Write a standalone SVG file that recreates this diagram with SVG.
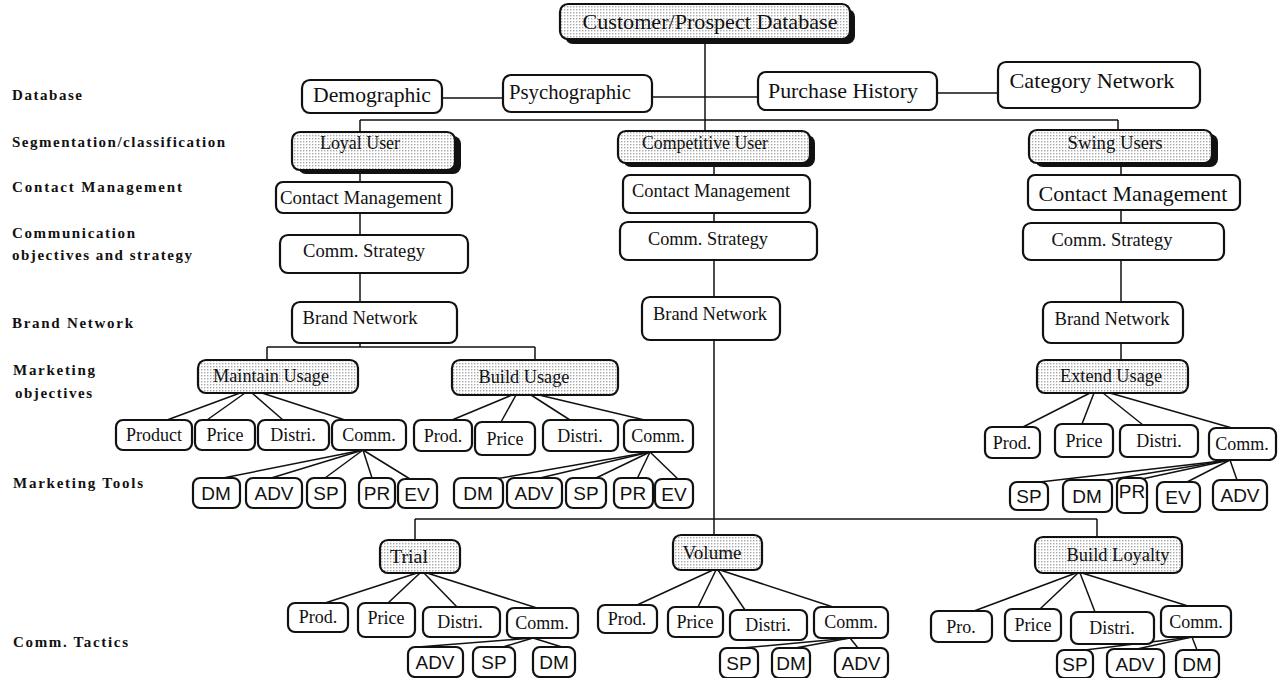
<svg xmlns="http://www.w3.org/2000/svg" width="1280" height="678" viewBox="0 0 1280 678">
<defs>
<pattern id="dots" width="3" height="3" patternUnits="userSpaceOnUse">
<rect width="3" height="3" fill="#fff"/>
<rect width="1.4" height="1.4" fill="#a8a8a8"/>
</pattern>
<style>
.b{fill:#fff;stroke:#111;stroke-width:2.2}
.s{fill:url(#dots);stroke:#111;stroke-width:2.2}
.sh{fill:#111}
text{font-family:"Liberation Serif","Times New Roman",serif;fill:#111}
.m{text-anchor:middle}
.lbl{font-weight:bold;font-size:15px}
.n17{font-size:17px}
.n18{font-size:18px}
.n19{font-size:19px}
.n21{font-size:21px}
.n22{font-size:22px}
.a{font-family:"Liberation Sans",Arial,sans-serif;font-size:19px;text-anchor:middle}
#connectors line{stroke:#111;stroke-width:1.5;fill:none}
</style>
</defs>
<rect width="1280" height="678" fill="#fff"/>

<g id="row-labels">
<text class="lbl" x="12" y="100" textLength="70">Database</text>
<text class="lbl" x="12" y="147" textLength="213">Segmentation/classification</text>
<text class="lbl" x="12" y="192" textLength="170">Contact Management</text>
<text class="lbl" x="12" y="238" textLength="123">Communication</text>
<text class="lbl" x="12" y="260" textLength="180">objectives and strategy</text>
<text class="lbl" x="12" y="328" textLength="121">Brand Network</text>
<text class="lbl" x="13" y="375" textLength="82">Marketing</text>
<text class="lbl" x="15" y="398" textLength="77">objectives</text>
<text class="lbl" x="13" y="488" textLength="130">Marketing Tools</text>
<text class="lbl" x="13" y="647" textLength="115">Comm. Tactics</text>
</g>

<g id="connectors">
<line x1="705" y1="40" x2="705" y2="131"/>
<line x1="442" y1="98" x2="503" y2="98"/>
<line x1="652" y1="97" x2="758" y2="97"/>
<line x1="937" y1="93" x2="998" y2="93"/>
<line x1="360" y1="120" x2="1118" y2="120"/>
<line x1="360" y1="120" x2="360" y2="132"/>
<line x1="1118" y1="120" x2="1118" y2="130"/>
<line x1="360" y1="170" x2="360" y2="182"/>
<line x1="360" y1="213" x2="360" y2="235"/>
<line x1="360" y1="273" x2="360" y2="302"/>
<line x1="360" y1="343" x2="360" y2="347"/>
<line x1="267" y1="347" x2="535" y2="347"/>
<line x1="267" y1="347" x2="267" y2="360"/>
<line x1="535" y1="347" x2="535" y2="360"/>
<line x1="714" y1="163" x2="714" y2="175"/>
<line x1="714" y1="213" x2="714" y2="222"/>
<line x1="714" y1="260" x2="714" y2="297"/>
<line x1="714" y1="340" x2="714" y2="535"/>
<line x1="415" y1="519" x2="1097" y2="519"/>
<line x1="415" y1="519" x2="415" y2="540"/>
<line x1="1097" y1="519" x2="1097" y2="537"/>
<line x1="1121" y1="163" x2="1121" y2="175"/>
<line x1="1121" y1="210" x2="1121" y2="223"/>
<line x1="1121" y1="260" x2="1121" y2="302"/>
<line x1="1121" y1="343" x2="1121" y2="360"/>
<line x1="240" y1="393" x2="167" y2="420"/>
<line x1="245" y1="393" x2="207" y2="420"/>
<line x1="252" y1="393" x2="283" y2="420"/>
<line x1="262" y1="393" x2="345" y2="420"/>
<line x1="363" y1="450" x2="218" y2="479"/>
<line x1="363" y1="450" x2="268" y2="479"/>
<line x1="363" y1="450" x2="325" y2="478"/>
<line x1="363" y1="450" x2="372" y2="478"/>
<line x1="363" y1="450" x2="410" y2="479"/>
<line x1="512" y1="395" x2="452" y2="420"/>
<line x1="516" y1="395" x2="501" y2="422"/>
<line x1="531" y1="395" x2="570" y2="420"/>
<line x1="539" y1="395" x2="653" y2="422"/>
<line x1="650" y1="452" x2="495" y2="479"/>
<line x1="650" y1="452" x2="540" y2="478"/>
<line x1="650" y1="452" x2="594" y2="479"/>
<line x1="650" y1="452" x2="637" y2="479"/>
<line x1="650" y1="452" x2="679" y2="480"/>
<line x1="1090" y1="393" x2="1023" y2="427"/>
<line x1="1094" y1="393" x2="1082" y2="424"/>
<line x1="1103" y1="393" x2="1143" y2="425"/>
<line x1="1110" y1="393" x2="1232" y2="428"/>
<line x1="1230" y1="460" x2="1040" y2="482"/>
<line x1="1230" y1="460" x2="1107" y2="480"/>
<line x1="1230" y1="460" x2="1142" y2="479"/>
<line x1="1230" y1="460" x2="1187" y2="482"/>
<line x1="1230" y1="460" x2="1237" y2="480"/>
<line x1="417" y1="573" x2="325" y2="603"/>
<line x1="420" y1="573" x2="388" y2="603"/>
<line x1="424" y1="573" x2="457" y2="607"/>
<line x1="427" y1="573" x2="537" y2="608"/>
<line x1="533" y1="638" x2="418" y2="647"/>
<line x1="533" y1="638" x2="503" y2="647"/>
<line x1="533" y1="638" x2="562" y2="647"/>
<line x1="713" y1="570" x2="637" y2="605"/>
<line x1="716" y1="570" x2="698" y2="607"/>
<line x1="718" y1="570" x2="745" y2="610"/>
<line x1="720" y1="570" x2="833" y2="607"/>
<line x1="850" y1="638" x2="742" y2="648"/>
<line x1="850" y1="638" x2="795" y2="648"/>
<line x1="850" y1="638" x2="858" y2="648"/>
<line x1="1076" y1="573" x2="974" y2="611"/>
<line x1="1078" y1="573" x2="1040" y2="609"/>
<line x1="1080" y1="573" x2="1095" y2="612"/>
<line x1="1082" y1="573" x2="1188" y2="606"/>
<line x1="1192" y1="637" x2="1085" y2="650"/>
<line x1="1192" y1="637" x2="1137" y2="649"/>
<line x1="1192" y1="637" x2="1197" y2="650"/>
</g>

<g id="customer-db"><rect class="sh" x="565" y="9" width="290" height="35" rx="8"/><rect class="s" x="560" y="4" width="290" height="35" rx="8"/><text class="m n22" x="710" y="29" textLength="255" lengthAdjust="spacingAndGlyphs">Customer/Prospect Database</text></g>

<g id="demographic"><rect class="b" x="302" y="80" width="140" height="33" rx="8"/><text class="m n22" x="372" y="102" textLength="118" lengthAdjust="spacingAndGlyphs">Demographic</text></g>
<g id="psychographic"><rect class="b" x="503" y="75" width="149" height="37" rx="8"/><text class="m n21" x="570" y="99" textLength="122" lengthAdjust="spacingAndGlyphs">Psychographic</text></g>
<g id="purchase-history"><rect class="b" x="758" y="72" width="179" height="38" rx="8"/><text class="m n22" x="843" y="98" textLength="150" lengthAdjust="spacingAndGlyphs">Purchase History</text></g>
<g id="category-network"><rect class="b" x="998" y="62" width="202" height="46" rx="8"/><text class="m n22" x="1092" y="88" textLength="165" lengthAdjust="spacingAndGlyphs">Category Network</text></g>

<g id="loyal-user"><rect class="sh" x="298" y="136" width="163" height="38" rx="8"/><rect class="s" x="292" y="132" width="163" height="38" rx="8"/><text class="m n18" x="360" y="149" textLength="80" lengthAdjust="spacingAndGlyphs">Loyal User</text></g>
<g id="competitive-user"><rect class="sh" x="623" y="135" width="192" height="32" rx="8"/><rect class="s" x="618" y="131" width="192" height="32" rx="8"/><text class="m n18" x="705" y="149" textLength="126" lengthAdjust="spacingAndGlyphs">Competitive User</text></g>
<g id="swing-users"><rect class="sh" x="1035" y="134" width="183" height="33" rx="8"/><rect class="s" x="1029" y="130" width="183" height="33" rx="8"/><text class="m n19" x="1115" y="149" textLength="95" lengthAdjust="spacingAndGlyphs">Swing Users</text></g>

<g id="cm-loyal"><rect class="b" x="276" y="182" width="176" height="31" rx="7"/><text class="m n19" x="361" y="204" textLength="162" lengthAdjust="spacingAndGlyphs">Contact Management</text></g>
<g id="cm-competitive"><rect class="b" x="623" y="175" width="187" height="38" rx="7"/><text class="m n18" x="711" y="197" textLength="158" lengthAdjust="spacingAndGlyphs">Contact Management</text></g>
<g id="cm-swing"><rect class="b" x="1028" y="175" width="212" height="35" rx="7"/><text class="m n22" x="1133" y="201" textLength="189" lengthAdjust="spacingAndGlyphs">Contact Management</text></g>

<g id="cs-loyal"><rect class="b" x="280" y="235" width="188" height="38" rx="8"/><text class="m n19" x="364" y="257" textLength="122" lengthAdjust="spacingAndGlyphs">Comm. Strategy</text></g>
<g id="cs-competitive"><rect class="b" x="620" y="222" width="197" height="38" rx="8"/><text class="m n18" x="708" y="245" textLength="120" lengthAdjust="spacingAndGlyphs">Comm. Strategy</text></g>
<g id="cs-swing"><rect class="b" x="1023" y="223" width="201" height="37" rx="8"/><text class="m n18" x="1112" y="246" textLength="121" lengthAdjust="spacingAndGlyphs">Comm. Strategy</text></g>

<g id="bn-loyal"><rect class="b" x="292" y="302" width="165" height="41" rx="8"/><text class="m n19" x="360" y="324" textLength="115" lengthAdjust="spacingAndGlyphs">Brand Network</text></g>
<g id="bn-competitive"><rect class="b" x="642" y="297" width="138" height="43" rx="8"/><text class="m n19" x="710" y="320" textLength="114" lengthAdjust="spacingAndGlyphs">Brand Network</text></g>
<g id="bn-swing"><rect class="b" x="1043" y="302" width="140" height="41" rx="8"/><text class="m n19" x="1112" y="325" textLength="115" lengthAdjust="spacingAndGlyphs">Brand Network</text></g>

<g id="maintain-usage"><rect class="s" x="198" y="360" width="160" height="33" rx="8"/><text class="m n18" x="271" y="382" textLength="116" lengthAdjust="spacingAndGlyphs">Maintain Usage</text></g>
<g id="build-usage"><rect class="s" x="452" y="360" width="166" height="35" rx="8"/><text class="m n18" x="524" y="383" textLength="91" lengthAdjust="spacingAndGlyphs">Build Usage</text></g>
<g id="extend-usage"><rect class="s" x="1037" y="360" width="151" height="33" rx="8"/><text class="m n18" x="1111" y="382" textLength="102" lengthAdjust="spacingAndGlyphs">Extend Usage</text></g>

<g id="mu-product"><rect class="b" x="116" y="420" width="76" height="30" rx="7"/><text class="m n18" x="154" y="441">Product</text></g>
<g id="mu-price"><rect class="b" x="195" y="420" width="60" height="30" rx="7"/><text class="m n18" x="225" y="441">Price</text></g>
<g id="mu-distri"><rect class="b" x="258" y="420" width="71" height="30" rx="7"/><text class="m n18" x="293" y="441">Distri.</text></g>
<g id="mu-comm"><rect class="b" x="332" y="420" width="74" height="30" rx="7"/><text class="m n18" x="369" y="441">Comm.</text></g>

<g id="bu-prod"><rect class="b" x="414" y="420" width="58" height="31" rx="7"/><text class="m n18" x="443" y="442">Prod.</text></g>
<g id="bu-price"><rect class="b" x="475" y="422" width="60" height="33" rx="7"/><text class="m n18" x="505" y="445">Price</text></g>
<g id="bu-distri"><rect class="b" x="543" y="420" width="75" height="31" rx="7"/><text class="m n18" x="580" y="442">Distri.</text></g>
<g id="bu-comm"><rect class="b" x="624" y="420" width="69" height="32" rx="7"/><text class="m n18" x="658" y="442">Comm.</text></g>

<g id="eu-prod"><rect class="b" x="985" y="427" width="55" height="31" rx="7"/><text class="m n18" x="1012" y="449">Prod.</text></g>
<g id="eu-price"><rect class="b" x="1055" y="424" width="58" height="33" rx="7"/><text class="m n18" x="1084" y="447">Price</text></g>
<g id="eu-distri"><rect class="b" x="1120" y="425" width="78" height="32" rx="7"/><text class="m n18" x="1159" y="447">Distri.</text></g>
<g id="eu-comm"><rect class="b" x="1209" y="428" width="67" height="32" rx="7"/><text class="m n18" x="1242" y="450">Comm.</text></g>

<g id="mu-dm"><rect class="b" x="193" y="478" width="47" height="30" rx="7"/><text class="a" x="216" y="500">DM</text></g>
<g id="mu-adv"><rect class="b" x="246" y="478" width="56" height="30" rx="7"/><text class="a" x="274" y="500">ADV</text></g>
<g id="mu-sp"><rect class="b" x="307" y="478" width="38" height="30" rx="7"/><text class="a" x="326" y="500">SP</text></g>
<g id="mu-pr"><rect class="b" x="359" y="478" width="36" height="30" rx="7"/><text class="a" x="377" y="500">PR</text></g>
<g id="mu-ev"><rect class="b" x="398" y="479" width="39" height="29" rx="7"/><text class="a" x="417" y="501">EV</text></g>

<g id="bu-dm"><rect class="b" x="454" y="478" width="49" height="30" rx="7"/><text class="a" x="478" y="500">DM</text></g>
<g id="bu-adv"><rect class="b" x="507" y="478" width="55" height="30" rx="7"/><text class="a" x="534" y="500">ADV</text></g>
<g id="bu-sp"><rect class="b" x="566" y="478" width="40" height="30" rx="7"/><text class="a" x="586" y="500">SP</text></g>
<g id="bu-pr"><rect class="b" x="614" y="478" width="39" height="30" rx="7"/><text class="a" x="633" y="500">PR</text></g>
<g id="bu-ev"><rect class="b" x="655" y="479" width="38" height="29" rx="7"/><text class="a" x="674" y="501">EV</text></g>

<g id="eu-sp"><rect class="b" x="1010" y="482" width="38" height="28" rx="7"/><text class="a" x="1029" y="503">SP</text></g>
<g id="eu-dm"><rect class="b" x="1063" y="480" width="49" height="32" rx="7"/><text class="a" x="1087" y="503">DM</text></g>
<g id="eu-pr"><rect class="b" x="1117" y="478" width="30" height="35" rx="7"/><text class="a" x="1132" y="498" font-size="17">PR</text></g>
<g id="eu-ev"><rect class="b" x="1157" y="482" width="43" height="30" rx="7"/><text class="a" x="1178" y="504">EV</text></g>
<g id="eu-adv"><rect class="b" x="1213" y="480" width="54" height="30" rx="7"/><text class="a" x="1240" y="502">ADV</text></g>

<g id="trial"><rect class="s" x="380" y="540" width="80" height="33" rx="8"/><text class="m n19" x="409" y="563" textLength="38" lengthAdjust="spacingAndGlyphs">Trial</text></g>
<g id="volume"><rect class="s" x="673" y="535" width="89" height="35" rx="8"/><text class="m n18" x="712" y="559" textLength="59" lengthAdjust="spacingAndGlyphs">Volume</text></g>
<g id="build-loyalty"><rect class="s" x="1035" y="537" width="147" height="36" rx="8"/><text class="m n18" x="1118" y="561" textLength="103" lengthAdjust="spacingAndGlyphs">Build Loyalty</text></g>

<g id="tr-prod"><rect class="b" x="288" y="603" width="60" height="29" rx="7"/><text class="m n18" x="318" y="623">Prod.</text></g>
<g id="tr-price"><rect class="b" x="358" y="603" width="57" height="34" rx="7"/><text class="m n18" x="386" y="624">Price</text></g>
<g id="tr-distri"><rect class="b" x="423" y="607" width="77" height="30" rx="7"/><text class="m n18" x="460" y="628">Distri.</text></g>
<g id="tr-comm"><rect class="b" x="507" y="608" width="71" height="30" rx="7"/><text class="m n18" x="542" y="629">Comm.</text></g>
<g id="tr-adv"><rect class="b" x="408" y="647" width="55" height="30" rx="7"/><text class="a" x="435" y="669">ADV</text></g>
<g id="tr-sp"><rect class="b" x="473" y="647" width="42" height="30" rx="7"/><text class="a" x="494" y="669">SP</text></g>
<g id="tr-dm"><rect class="b" x="533" y="647" width="42" height="30" rx="7"/><text class="a" x="554" y="669">DM</text></g>

<g id="vo-prod"><rect class="b" x="598" y="605" width="59" height="28" rx="7"/><text class="m n18" x="627" y="625">Prod.</text></g>
<g id="vo-price"><rect class="b" x="668" y="607" width="55" height="30" rx="7"/><text class="m n18" x="695" y="628">Price</text></g>
<g id="vo-distri"><rect class="b" x="730" y="610" width="77" height="30" rx="7"/><text class="m n18" x="768" y="631">Distri.</text></g>
<g id="vo-comm"><rect class="b" x="814" y="607" width="74" height="31" rx="7"/><text class="m n18" x="851" y="628">Comm.</text></g>
<g id="vo-sp"><rect class="b" x="720" y="648" width="38" height="30" rx="7"/><text class="a" x="739" y="670">SP</text></g>
<g id="vo-dm"><rect class="b" x="772" y="648" width="38" height="30" rx="7"/><text class="a" x="791" y="670">DM</text></g>
<g id="vo-adv"><rect class="b" x="835" y="648" width="53" height="30" rx="7"/><text class="a" x="861" y="670">ADV</text></g>

<g id="bl-pro"><rect class="b" x="931" y="611" width="61" height="31" rx="7"/><text class="m n18" x="961" y="633">Pro.</text></g>
<g id="bl-price"><rect class="b" x="1005" y="609" width="56" height="32" rx="7"/><text class="m n18" x="1033" y="631">Price</text></g>
<g id="bl-distri"><rect class="b" x="1071" y="612" width="83" height="32" rx="7"/><text class="m n18" x="1112" y="634">Distri.</text></g>
<g id="bl-comm"><rect class="b" x="1161" y="606" width="70" height="31" rx="7"/><text class="m n18" x="1196" y="628">Comm.</text></g>
<g id="bl-sp"><rect class="b" x="1057" y="650" width="36" height="28" rx="7"/><text class="a" x="1075" y="671">SP</text></g>
<g id="bl-adv"><rect class="b" x="1107" y="649" width="57" height="29" rx="7"/><text class="a" x="1135" y="671">ADV</text></g>
<g id="bl-dm"><rect class="b" x="1176" y="650" width="43" height="28" rx="7"/><text class="a" x="1197" y="671">DM</text></g>
</svg>
